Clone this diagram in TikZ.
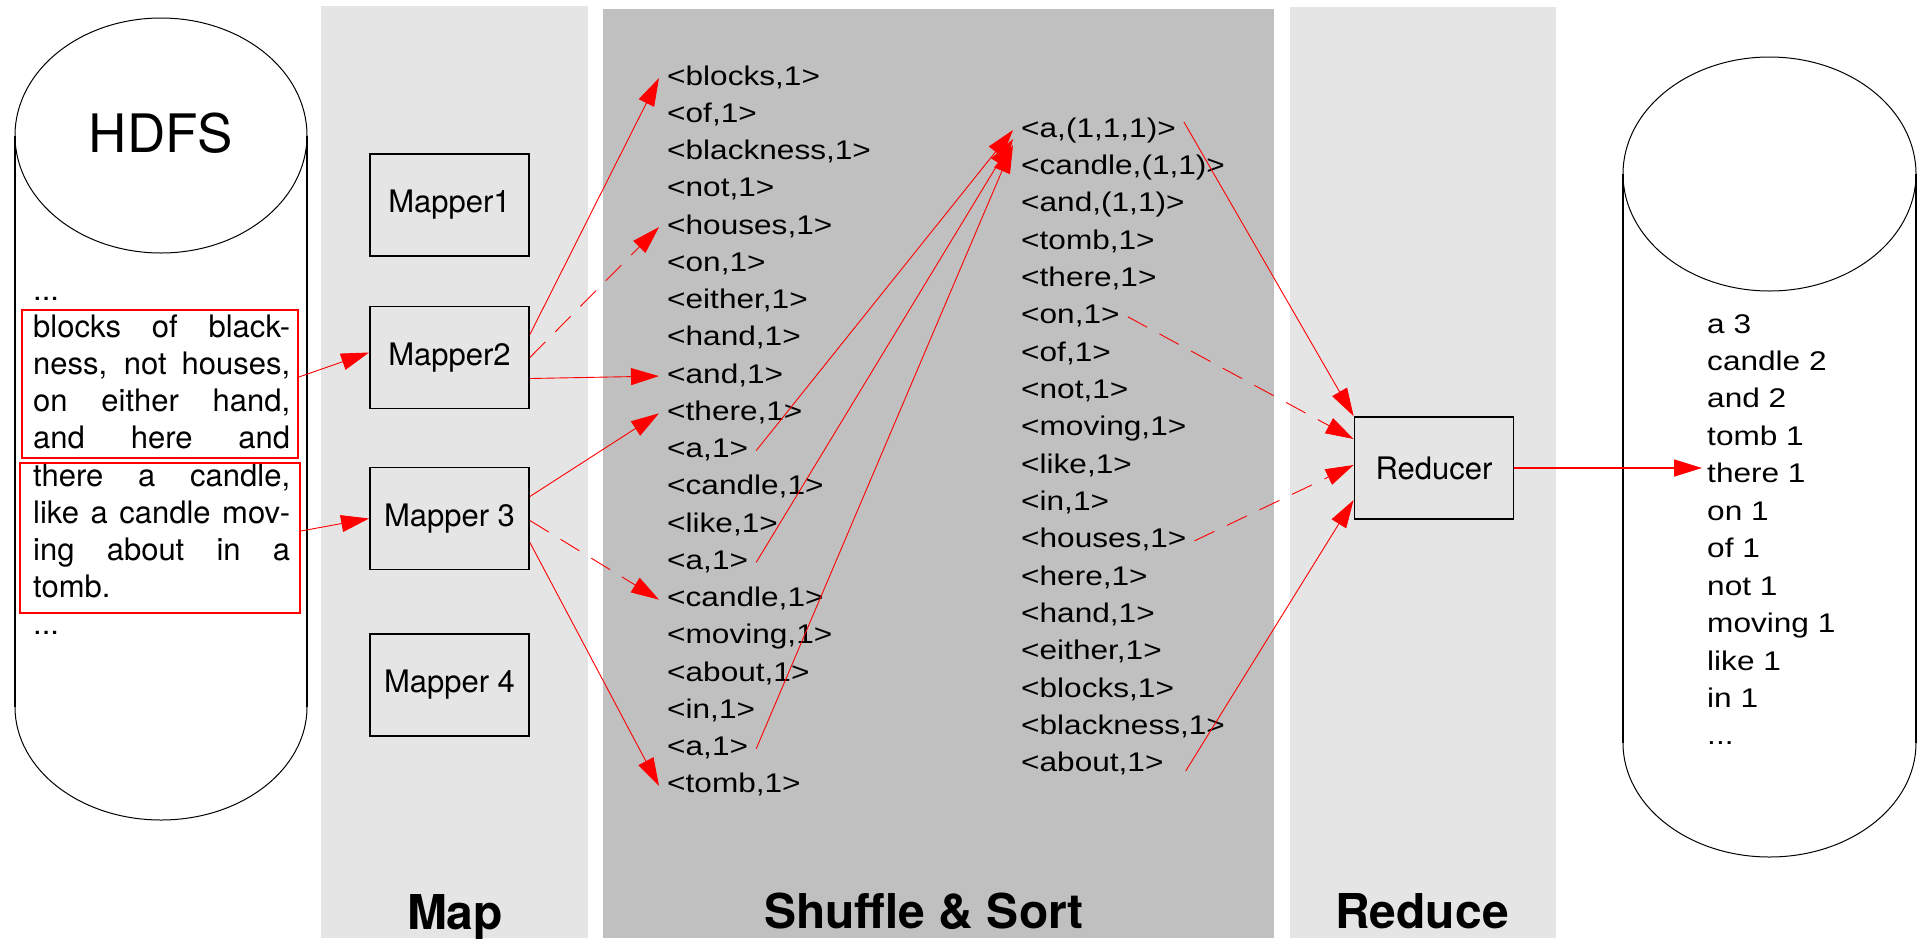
\documentclass[tikz,border=0pt]{standalone}
\usepackage{fontspec}
\setmainfont{TeX Gyre Heros}
\newfontfamily\pairfont{Liberation Sans}[FakeStretch=1.17]
\usepackage{xcolor}
\usepackage{tikz}
\usetikzlibrary{arrows.meta}

\definecolor{phaselight}{HTML}{E5E5E5}
\definecolor{phasedark}{HTML}{C0C0C0}

\newcommand{\splitfont}{\fontsize{31}{37.2}\selectfont}
\newcommand{\pairsize}{\pairfont\fontsize{27}{37.45}\selectfont}

\begin{document}
\begin{tikzpicture}[x=1pt, y=-1pt,
    mapbox/.style={draw, line width=1.8pt, minimum width=159pt, minimum height=102pt, font=\splitfont},
    chunk/.style={draw=red, line width=1.8pt, inner sep=0pt},
    kv/.style={anchor=base west, inner xsep=8pt, inner ysep=0pt, text height=20pt, text depth=6pt, font=\pairsize},
    flow/.style={red, line width=0.9pt, -{Triangle[length=28pt,width=17pt]}},
    flowdash/.style={flow, dash pattern=on 22pt off 14pt},
    phase/.style={anchor=base, font=\bfseries\fontsize{48}{50}\selectfont}]
        \useasboundingbox (0,0) rectangle (1917,938);

        % phase columns
        \fill[phaselight] (321,6) rectangle (588,938);
        \fill[phasedark] (603,9) rectangle (1274,938);
        \fill[phaselight] (1290,7) rectangle (1556,938);
        \node[phase] (maplbl) at (455,929) {Map};
        \node[phase] (shufflelbl) at (924,928) {Shuffle \& Sort};
        \node[phase] (reducelbl) at (1422,928) {Reduce};

        % HDFS input store
        \draw[line width=1.8pt] (15,135.5) -- (15,707) (307,135.5) -- (307,707);
        \draw[line width=1pt] (161,135.5) ellipse [x radius=146pt, y radius=117.5pt];
        \draw[line width=1pt] (15,707) arc[start angle=180, end angle=360, x radius=146pt, y radius=113pt];
        \node[font=\fontsize{53}{60}\selectfont] (hdfs) at (161,133) {HDFS};
        \node[anchor=base west, inner sep=0pt, font=\splitfont] (input) at (33,300) {\parbox[t]{257pt}{%
            ...\\
            \makebox[\linewidth][s]{blocks of black-}\\
            \makebox[\linewidth][s]{ness, not houses,}\\
            \makebox[\linewidth][s]{on either hand,}\\
            \makebox[\linewidth][s]{and here and}\\
            \makebox[\linewidth][s]{there a candle,}\\
            \makebox[\linewidth][s]{like a candle mov-}\\
            \makebox[\linewidth][s]{ing about in a}\\
            tomb.\\
            ...}};
        \node[chunk, minimum width=276pt, minimum height=148pt] (chunk1) at (160,384) {};
        \node[chunk, minimum width=280pt, minimum height=150pt] (chunk2) at (160,538) {};

        % mappers
        \node[mapbox] (m1) at (449.5,205) {Mapper1};
        \node[mapbox] (m2) at (449.5,357.5) {Mapper2};
        \node[mapbox] (m3) at (449.5,518.5) {Mapper 3};
        \node[mapbox] (m4) at (449.5,685) {Mapper 4};

        % emitted pairs, then grouped pairs
        \foreach \w [count=\i] in {{<blocks,1>},{<of,1>},{<blackness,1>},{<not,1>},{<houses,1>},{<on,1>},{<either,1>},{<hand,1>},{<and,1>},{<there,1>},{<a,1>},{<candle,1>},{<like,1>},{<a,1>},{<candle,1>},{<moving,1>},{<about,1>},{<in,1>},{<a,1>},{<tomb,1>}} {
            \node[kv] (sl-\i) at (659,{85+37.26*(\i-1)}) {\w};
        }
        \foreach \w [count=\i] in {{<a,(1,1,1)>},{<candle,(1,1)>},{<and,(1,1)>},{<tomb,1>},{<there,1>},{<on,1>},{<of,1>},{<not,1>},{<moving,1>},{<like,1>},{<in,1>},{<houses,1>},{<here,1>},{<hand,1>},{<either,1>},{<blocks,1>},{<blackness,1>},{<about,1>}} {
            \node[kv] (sr-\i) at (1013,{137+37.35*(\i-1)}) {\w};
        }

        % reducer and output store
        \node[mapbox] (reducer) at (1434,468) {Reducer};
        \draw[line width=1.8pt] (1623,174) -- (1623,743) (1916,174) -- (1916,743);
        \draw[line width=1pt] (1769.5,174) ellipse [x radius=146.5pt, y radius=117pt];
        \draw[line width=1pt] (1623,743) arc[start angle=180, end angle=360, x radius=146.5pt, y radius=114pt];
        \node[anchor=base west, inner xsep=5pt, inner ysep=0pt, font=\pairsize] (counts) at (1702,333) {\parbox[t]{200pt}{\raggedright
            a 3\\candle 2\\and 2\\tomb 1\\there 1\\on 1\\of 1\\not 1\\moving 1\\like 1\\in 1\\...}};

        % splits to mappers
        \draw[flow] ([yshift=7pt]chunk1.east) -- ([yshift=5pt]m2.west);
        \draw[flow] ([yshift=7pt]chunk2.east) -- (m3.west);

        % map output
        \draw[flow] ([yshift=23pt]m2.east) -- (sl-1.west);
        \draw[flowdash] (m2.east) -- (sl-5.west);
        \draw[flow] ([yshift=-21pt]m2.east) -- (sl-9.west);
        \draw[flow] ([yshift=22pt]m3.east) -- (sl-10.west);
        \draw[flowdash] ([yshift=-2pt]m3.east) -- (sl-15.west);
        \draw[flow] ([yshift=-24pt]m3.east) -- (sl-20.west);

        % grouping by key
        \draw[flow] (sl-11.east) -- (sr-1.west);
        \draw[flow] (sl-14.east) -- ([yshift=-9pt]sr-1.west);
        \draw[flow] (sl-19.east) -- ([yshift=-15pt]sr-1.west);

        % into the reducer and out
        \draw[flow] ([yshift=8pt]sr-1.east) -- (reducer.north west);
        \draw[flowdash] (sr-6.east) -- ([yshift=29pt]reducer.west);
        \draw[flowdash] (sr-12.east) -- ([yshift=3pt]reducer.west);
        \draw[flow] ([xshift=14pt,yshift=-6pt]sr-18.east) -- ([yshift=-32pt]reducer.west);
        \draw[flow, line width=1.6pt] (reducer.east) -- (reducer.east -| counts.west);
    \end{tikzpicture}
\end{document}
